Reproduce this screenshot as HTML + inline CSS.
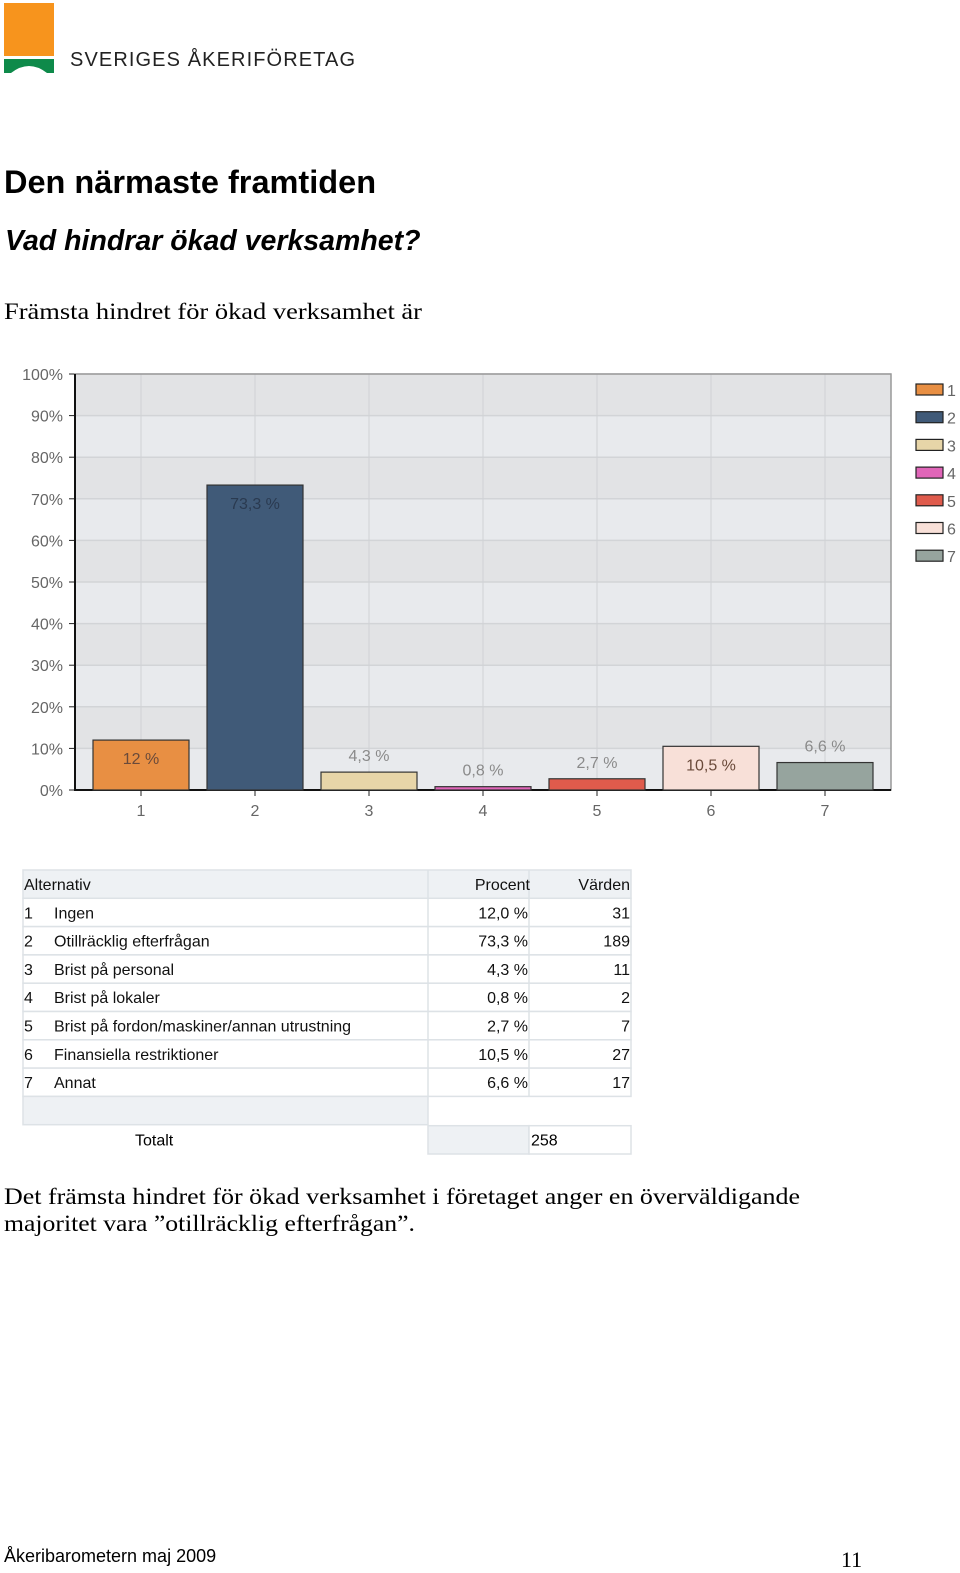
<!DOCTYPE html>
<html><head><meta charset="utf-8">
<style>
body{margin:0;background:#fff;width:960px;height:1573px;position:relative;overflow:hidden;font-family:"Liberation Sans",sans-serif;}
.a{position:absolute;white-space:nowrap;}
svg text{font-family:"Liberation Sans",sans-serif;}
</style></head><body>
<div class="a" style="left:4px;top:3px;width:50px;height:53px;background:#f7941d"></div>
<svg class="a" style="left:4px;top:59px" width="50" height="15"><path d="M0 0H50V14H43Q25 0 7 14H0Z" fill="#0e8a4a"/></svg>
<svg class="a" style="left:0;top:44px" width="400" height="30"><text x="70" y="22" font-size="20" fill="#222" textLength="285" lengthAdjust="spacing">SVERIGES ÅKERIFÖRETAG</text></svg>
<div class="a" style="left:4px;top:164px;font-size:32.5px;font-weight:bold;color:#000">Den närmaste framtiden</div>
<div class="a" style="left:5px;top:225px;font-size:28.5px;font-weight:bold;font-style:italic">Vad hindrar ökad verksamhet?</div>
<svg class="a" style="left:0;top:292px" width="960" height="40"><text x="4" y="27" style="font-family:'Liberation Serif',serif" font-size="23" textLength="418" lengthAdjust="spacingAndGlyphs">Främsta hindret för ökad verksamhet är</text></svg>

<svg class="a" id="chart" style="left:0;top:350px" width="960" height="480"></svg>

<svg class="a" style="left:0;top:862px" width="640" height="300" id="tbl"></svg>

<svg class="a" style="left:0;top:1178px" width="960" height="70">
<text x="4" y="26" style="font-family:'Liberation Serif',serif" font-size="23" textLength="796" lengthAdjust="spacingAndGlyphs">Det främsta hindret för ökad verksamhet i företaget anger en överväldigande</text>
<text x="4" y="53" style="font-family:'Liberation Serif',serif" font-size="23" textLength="411" lengthAdjust="spacingAndGlyphs">majoritet vara ”otillräcklig efterfrågan”.</text>
</svg>
<div class="a" style="left:4px;top:1546px;font-size:18px">Åkeribarometern maj 2009</div>
<div class="a" style="left:841px;top:1547px;font-size:22px;font-family:'Liberation Serif',serif">11</div>

<script>
const categories=["1","2","3","4","5","6","7"];
const values=[12.0,73.3,4.3,0.8,2.7,10.5,6.6];
const labels=["12 %","73,3 %","4,3 %","0,8 %","2,7 %","10,5 %","6,6 %"];
const colors=["#e88f43","#405a78","#e7d5a8","#e065b8","#df5b4c","#f8e0d8","#96a49e"];
const ticks=[0,10,20,30,40,50,60,70,80,90,100];
const names=["Ingen","Otillräcklig efterfrågan","Brist på personal","Brist på lokaler","Brist på fordon/maskiner/annan utrustning","Finansiella restriktioner","Annat"];
const pcts=["12,0 %","73,3 %","4,3 %","0,8 %","2,7 %","10,5 %","6,6 %"];
const counts=[31,189,11,2,7,27,17];
const total=258;

const NS="http://www.w3.org/2000/svg";
function mk(p,t,a){const e=document.createElementNS(NS,t);for(const k in a)e.setAttribute(k,a[k]);p.appendChild(e);return e;}
const svg=document.getElementById('chart');
const X0=75,X1=891,Y0=440,Y1=24;
const y=v=>Y0-(v/100)*(Y0-Y1);
const step=114, pad=66;
const xc=i=>X0+pad+step*i;
mk(svg,'rect',{x:X0,y:Y1,width:X1-X0,height:Y0-Y1,fill:'#e8eaed'});
for(let i=0;i<ticks.length-1;i++){
  if(i%2==1){const b=mk(svg,'rect',{x:X0,y:y(ticks[i+1]),width:X1-X0,height:y(ticks[i])-y(ticks[i+1]),fill:'#e2e3e5'});}
}
ticks.forEach(t=>{
  const g=mk(svg,'line',{x1:X0,x2:X1,y1:y(t),y2:y(t),stroke:'#d2d4d7','stroke-width':1.5});
  
  mk(svg,'line',{x1:X0-6,x2:X0,y1:y(t),y2:y(t),stroke:'#222'});
  const l=mk(svg,'text',{x:63,y:y(t)+6,'text-anchor':'end','font-size':16,fill:'#666'});l.textContent=t+'%';
  
});
categories.forEach((c,i)=>{
  mk(svg,'line',{x1:xc(i),x2:xc(i),y1:Y1,y2:Y0,stroke:'#d0d2d5','stroke-width':1});
});
mk(svg,'rect',{x:X0,y:Y1,width:X1-X0,height:Y0-Y1,fill:'none',stroke:'#999','stroke-width':1.5});
mk(svg,'line',{x1:X0,x2:X0,y1:Y1,y2:Y0+1,stroke:'#111','stroke-width':2});
mk(svg,'line',{x1:X0,x2:X1,y1:Y0,y2:Y0,stroke:'#111','stroke-width':2});
const bw=96;
categories.forEach((c,i)=>{
  const cx=xc(i);
  const b=mk(svg,'rect',{x:cx-bw/2,y:y(values[i]),width:bw,height:Y0-y(values[i]),fill:colors[i],stroke:'#333','stroke-width':1.2});
  
  const inside=values[i]>=10;
  const t=mk(svg,'text',{x:cx,y:inside?y(values[i])+24:y(values[i])-11,'text-anchor':'middle','font-size':16,fill:inside?(i==1?'#2a3a50':'#6a4a3a'):'#8a8a8a'});
  t.textContent=labels[i];
  
  mk(svg,'line',{x1:cx,x2:cx,y1:Y0,y2:Y0+6,stroke:'#222'});
  const xl=mk(svg,'text',{x:cx,y:Y0+26,'text-anchor':'middle','font-size':16,fill:'#666'});xl.textContent=c;
  
  const ly=34+i*27.7;
  const s=mk(svg,'rect',{x:916,y:ly,width:27,height:11,fill:colors[i],stroke:'#222','stroke-width':1.2});
  
  const lt=mk(svg,'text',{x:947,y:ly+12,'font-size':16,fill:'#666'});lt.textContent=c;
  
});

// table
const T=document.getElementById('tbl');
const L=23,C1=428,C2=529,C3=631,R0=8,RH=28.3;
function row(r,cells){
  const yy=R0+r*RH;
  mk(T,'rect',{x:L,y:yy,width:C3-L,height:RH,fill:r==0?'#eef1f4':'#fff',stroke:'#dde2e6','stroke-width':1.5});
  mk(T,'line',{x1:C1,x2:C1,y1:yy,y2:yy+RH,stroke:'#dde2e6','stroke-width':1.5});
  mk(T,'line',{x1:C2,x2:C2,y1:yy,y2:yy+RH,stroke:'#dde2e6','stroke-width':1.5});
  cells.forEach(([x,txt,anc])=>{const t=mk(T,'text',{x:x,y:yy+20,'font-size':16,'text-anchor':anc||'start',fill:'#111'});t.textContent=txt;});
}
row(0,[[24,'Alternativ'],[530,'Procent','end'],[630,'Värden','end']]);
names.forEach((n,i)=>{row(i+1,[[24,String(i+1)],[54,n],[528,pcts[i],'end'],[630,String(counts[i]),'end']]);});
const ey=R0+8*RH;
mk(T,'rect',{x:L,y:ey,width:C1-L,height:RH,fill:'#eef1f4',stroke:'#dde2e6','stroke-width':1.5});
const ty=ey+RH+1;
mk(T,'rect',{x:C1,y:ty,width:C2-C1,height:RH,fill:'#eef1f4',stroke:'#dde2e6','stroke-width':1.5});
mk(T,'rect',{x:C2,y:ty,width:C3-C2,height:RH,fill:'#fff',stroke:'#dde2e6','stroke-width':1.5});
let t1=mk(T,'text',{x:135,y:ty+20,'font-size':16});t1.textContent='Totalt';
let t2=mk(T,'text',{x:531,y:ty+20,'font-size':16});t2.textContent=String(total);
</script>
</body></html>
